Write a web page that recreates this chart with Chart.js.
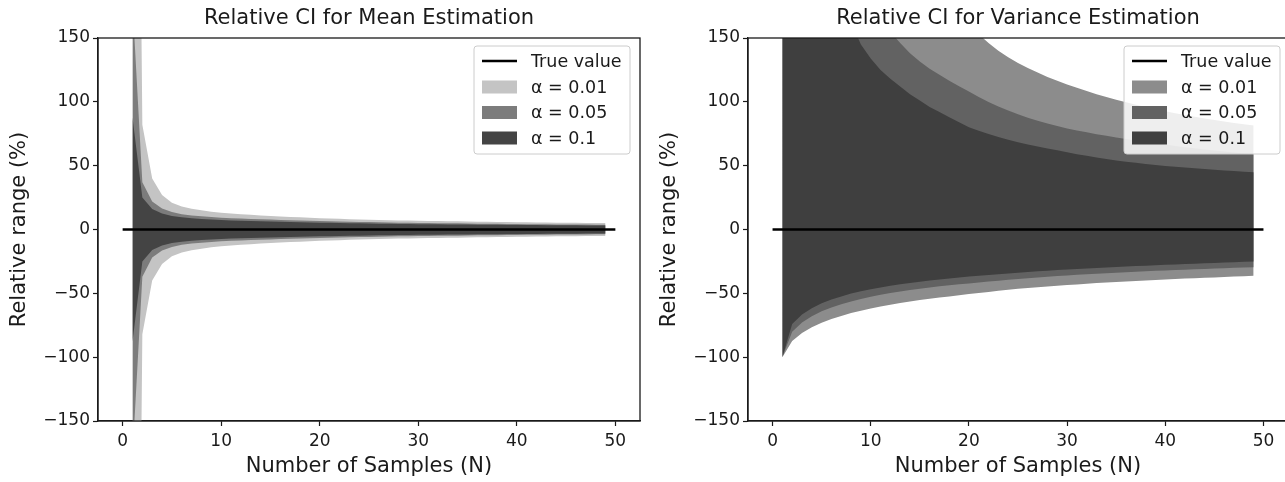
<!DOCTYPE html>
<html>
<head>
<meta charset="utf-8">
<script src="https://cdn.jsdelivr.net/npm/chart.js@4.4.0/dist/chart.umd.min.js"></script>
<style>
  html, body { margin: 0; padding: 0; background: #fff; overflow: hidden; }
  body { width: 1285px; height: 482px; position: relative; }
  canvas { position: absolute; top: 0; }
</style>
</head>
<body>
<canvas id="mean-chart" width="645" height="482" style="left:0px"></canvas>
<canvas id="var-chart" width="660" height="482" style="left:640px"></canvas>
<script>
// Number of samples N on the x axis
const samples = [1, 2, 3, 4, 5, 6, 7, 8, 9, 10, 11, 12, 13, 14, 15, 16, 17, 18, 19, 20,
  21, 22, 23, 24, 25, 26, 27, 28, 29, 30, 31, 32, 33, 34, 35, 36, 37, 38, 39, 40,
  41, 42, 43, 44, 45, 46, 47, 48, 49];
const trueLineX = [0, 50];
const xTicks = [0, 10, 20, 30, 40, 50];
const yTicks = [-150, -100, -50, 0, 50, 100, 150];
const legendLabels = ["True value", "\u03b1 = 0.01", "\u03b1 = 0.05", "\u03b1 = 0.1"];

// Mean estimation: half width of the relative CI (%), band is +/- this value
const meanHalf01 = [890, 82, 40, 27, 21, 18, 16.3, 15, 14, 13.2, 12.6, 12.0, 11.5, 11.0, 10.6, 10.2, 9.8, 9.5, 9.2, 8.9,
  8.6, 8.4, 8.1, 7.9, 7.7, 7.5, 7.3, 7.1, 7.0, 6.8, 6.7, 6.6, 6.5, 6.4, 6.25, 6.1, 6.0, 5.9, 5.8, 5.7,
  5.6, 5.5, 5.4, 5.35, 5.3, 5.2, 5.1, 5.05, 5.0];
const meanHalf05 = [178, 37, 22, 16.5, 13.7, 12.0, 11.0, 10.3, 9.7, 9.3, 8.9, 8.6, 8.3, 8.0, 7.75, 7.5, 7.25, 7.05, 6.85, 6.65,
  6.45, 6.3, 6.1, 5.95, 5.8, 5.65, 5.5, 5.35, 5.25, 5.1, 5.0, 4.95, 4.85, 4.8, 4.7, 4.6, 4.5, 4.45, 4.35, 4.3,
  4.2, 4.15, 4.05, 4.0, 3.95, 3.9, 3.85, 3.8, 3.75];
const meanHalf10 = [88, 25, 16, 12.5, 10.6, 9.5, 8.8, 8.2, 7.8, 7.4, 7.1, 6.9, 6.6, 6.4, 6.2, 6.0, 5.8, 5.65, 5.5, 5.35,
  5.2, 5.1, 4.95, 4.85, 4.7, 4.6, 4.5, 4.4, 4.3, 4.2, 4.1, 4.05, 4.0, 3.9, 3.85, 3.8, 3.7, 3.65, 3.6, 3.55,
  3.5, 3.45, 3.4, 3.35, 3.3, 3.25, 3.2, 3.15, 3.1];

// Variance estimation: upper and lower relative CI bounds (%)
const varUpper01 = [9999, 9999, 9999, 3500, 1700, 1050, 750, 570, 460, 390, 337, 297, 267, 242, 222, 206, 192, 180, 170, 161,
  153, 146, 140, 135, 130.5, 126.5, 123, 119.5, 116.5, 113.5, 111, 108.5, 106, 103.8, 101.6, 99.6, 97.7, 95.9, 94.2, 92.6,
  91.1, 89.7, 88.3, 87, 85.8, 84.6, 83.5, 82.4, 81.4];
const varUpper05 = [9999, 9999, 4000, 1200, 650, 420, 310, 250, 210, 185, 166, 155, 146, 138, 131.5, 126, 121.2, 116.6, 112.2, 108,
  103.8, 99.9, 96.4, 93.2, 90.3, 87.6, 85.2, 83, 81, 79.2, 77.6, 76.1, 74.7, 73.4, 72.1, 70.9, 69.7, 68.6, 67.5, 66.5,
  65.5, 64.5, 63.6, 62.7, 61.9, 61.1, 60.3, 59.6, 58.9];
const varUpper10 = [9999, 9999, 1200, 500, 320, 240, 195, 162, 145, 134, 125, 118, 112, 106, 101, 96, 92, 88, 84, 80,
  77.3, 74.8, 72.5, 70.3, 68.4, 66.6, 65.0, 63.5, 62, 60.5, 59, 57.7, 56.4, 55.2, 54.1, 53.1, 52.2, 51.3, 50.5, 49.8,
  49.1, 48.5, 47.9, 47.3, 46.8, 46.3, 45.8, 45.3, 44.9];
const varLower01 = [-100, -87.3, -81.1, -76.6, -73.1, -70.2, -67.7, -65.5, -63.6, -61.8, -60.3, -58.9, -57.6, -56.4, -55.3, -54.3, -53.3, -52.4, -51.5, -50.6,
  -49.7, -48.9, -48.0, -47.2, -46.5, -45.8, -45.2, -44.6, -44.0, -43.5, -43.0, -42.5, -42.0, -41.6, -41.1, -40.7, -40.3, -39.9, -39.5, -39.1,
  -38.8, -38.4, -38.1, -37.8, -37.5, -37.2, -36.9, -36.6, -36.3];
const varLower05 = [-100, -80.1, -72.9, -67.9, -64.1, -61.0, -58.5, -56.3, -54.4, -52.7, -51.2, -49.8, -48.6, -47.4, -46.4, -45.4, -44.5, -43.7, -42.9, -42.2,
  -41.5, -40.8, -40.1, -39.4, -38.8, -38.2, -37.6, -37.0, -36.5, -36.0, -35.5, -35.0, -34.6, -34.2, -33.8, -33.4, -33.0, -32.7, -32.4, -32.1,
  -31.8, -31.5, -31.2, -30.9, -30.6, -30.3, -30.0, -29.8, -29.5];
const varLower10 = [-100, -74.0, -66.6, -61.6, -57.8, -54.8, -52.4, -50.2, -48.4, -46.8, -45.4, -44.1, -42.9, -41.9, -40.9, -40.0, -39.2, -38.4, -37.6, -36.9,
  -36.2, -35.6, -35.0, -34.4, -33.9, -33.3, -32.8, -32.3, -31.8, -31.3, -30.9, -30.5, -30.1, -29.7, -29.3, -29.0, -28.6, -28.3, -28.0, -27.7,
  -27.4, -27.1, -26.8, -26.5, -26.2, -25.9, -25.6, -25.3, -25.0];

const FONT = "'DejaVu Sans', 'Liberation Sans', sans-serif";
const INK = "#1a1a1a";

function points(values) {
  return samples.map((n, i) => ({ x: n, y: values[i] }));
}

function band(upper, lower, color, order) {
  return [
    { data: points(upper), fill: "+1", backgroundColor: color, borderWidth: 0, pointRadius: 0, order: order },
    { data: points(lower), fill: false, borderWidth: 0, pointRadius: 0, order: order },
  ];
}

// frame on all four sides, like matplotlib spines
const framePlugin = {
  id: "frame",
  afterDatasetsDraw(chart) {
    const { ctx, chartArea: a } = chart;
    ctx.save();
    ctx.strokeStyle = INK;
    ctx.lineWidth = 1.3;
    ctx.strokeRect(a.left, a.top, a.right - a.left, a.bottom - a.top);
    ctx.restore();
  },
};

// title centered over the plot area
const plotTitle = {
  id: "plotTitle",
  afterDraw(chart, args, opts) {
    const { ctx, chartArea: a } = chart;
    ctx.save();
    ctx.font = "21px " + FONT;
    ctx.fillStyle = INK;
    ctx.textAlign = "center";
    ctx.textBaseline = "middle";
    ctx.fillText(opts.text, (a.left + a.right) / 2, 19);
    ctx.restore();
  },
};

// legend box inside the upper right corner of the plot
const insideLegend = {
  id: "insideLegend",
  afterDraw(chart, args, opts) {
    const { ctx, chartArea: a } = chart;
    const w = 156, h = 108;
    const x0 = a.right - opts.offset - w;
    const y0 = a.top + 8;
    ctx.save();
    ctx.beginPath();
    ctx.roundRect(x0, y0, w, h, 3);
    ctx.fillStyle = "rgba(255,255,255,0.85)";
    ctx.fill();
    ctx.strokeStyle = "#cccccc";
    ctx.lineWidth = 1;
    ctx.stroke();
    ctx.font = "17.5px " + FONT;
    ctx.textBaseline = "middle";
    ctx.textAlign = "left";
    const rowY = [15, 41, 66.5, 92];
    legendLabels.forEach((label, i) => {
      const cy = y0 + rowY[i];
      if (i === 0) {
        ctx.strokeStyle = "#000";
        ctx.lineWidth = 2.5;
        ctx.beginPath();
        ctx.moveTo(x0 + 8, cy);
        ctx.lineTo(x0 + 43, cy);
        ctx.stroke();
      } else {
        ctx.fillStyle = opts.colors[i - 1];
        ctx.fillRect(x0 + 8, cy - 6.5, 35, 13);
      }
      ctx.fillStyle = INK;
      ctx.fillText(label, x0 + 57, cy + 1);
    });
    ctx.restore();
  },
};

function makeChart(canvasId, cfg) {
  return new Chart(document.getElementById(canvasId), {
    type: "line",
    data: {
      datasets: [
        { data: trueLineX.map((x) => ({ x: x, y: 0 })), borderColor: "#000", borderWidth: 2.5, pointRadius: 0, fill: false, order: 0 },
        ...band(cfg.up10, cfg.low10, cfg.colors[2], 1),
        ...band(cfg.up05, cfg.low05, cfg.colors[1], 2),
        ...band(cfg.up01, cfg.low01, cfg.colors[0], 3),
      ],
    },
    options: {
      responsive: false,
      animation: false,
      layout: { padding: { top: 38, right: cfg.padRight, left: 0, bottom: 0 } },
      elements: { line: { tension: 0 } },
      plugins: {
        legend: { display: false },
        tooltip: { enabled: false },
        plotTitle: { text: cfg.title },
        insideLegend: { colors: cfg.colors, offset: cfg.legendOffset },
      },
      scales: {
        x: {
          type: "linear",
          min: -2.5,
          max: 52.5,
          afterBuildTicks: (scale) => { scale.ticks = xTicks.map((v) => ({ value: v })); },
          afterFit: (scale) => { scale.height = 61; },
          grid: { drawOnChartArea: false, drawTicks: true, tickLength: 5, tickColor: INK, tickWidth: 1.2 },
          border: { display: true, color: INK, width: 1.3 },
          ticks: { color: INK, padding: 5, maxRotation: 0, font: { family: FONT, size: 17 } },
          title: { display: true, text: "Number of Samples (N)", color: INK, font: { family: FONT, size: 21 }, padding: { top: 0, bottom: 2.5 } },
        },
        y: {
          type: "linear",
          min: -150,
          max: 150,
          afterBuildTicks: (scale) => { scale.ticks = yTicks.map((v) => ({ value: v })); },
          afterFit: (scale) => { scale.width = cfg.axisWidth; },
          grid: { drawOnChartArea: false, drawTicks: true, tickLength: 5, tickColor: INK, tickWidth: 1.2 },
          border: { display: true, color: INK, width: 1.3 },
          ticks: {
            color: INK,
            padding: 3,
            font: { family: FONT, size: 17 },
            callback: (v) => (v < 0 ? "\u2212" + Math.abs(v) : String(v)),
          },
          title: { display: true, text: "Relative range (%)", color: INK, font: { family: FONT, size: 21 }, padding: { top: cfg.yTitlePad, bottom: 0 } },
        },
      },
    },
    plugins: [framePlugin, plotTitle, insideLegend],
  });
}

makeChart("mean-chart", {
  title: "Relative CI for Mean Estimation",
  up01: meanHalf01, low01: meanHalf01.map((v) => -v),
  up05: meanHalf05, low05: meanHalf05.map((v) => -v),
  up10: meanHalf10, low10: meanHalf10.map((v) => -v),
  colors: ["#c4c4c4", "#7c7c7c", "#444444"],
  axisWidth: 98,
  padRight: 5,
  yTitlePad: 7,
  legendOffset: 10,
});

makeChart("var-chart", {
  title: "Relative CI for Variance Estimation",
  up01: varUpper01, low01: varLower01,
  up05: varUpper05, low05: varLower05,
  up10: varUpper10, low10: varLower10,
  colors: ["#8c8c8c", "#626262", "#3f3f3f"],
  axisWidth: 108,
  padRight: 12,
  yTitlePad: 17,
  legendOffset: 8,
});
</script>
</body>
</html>
